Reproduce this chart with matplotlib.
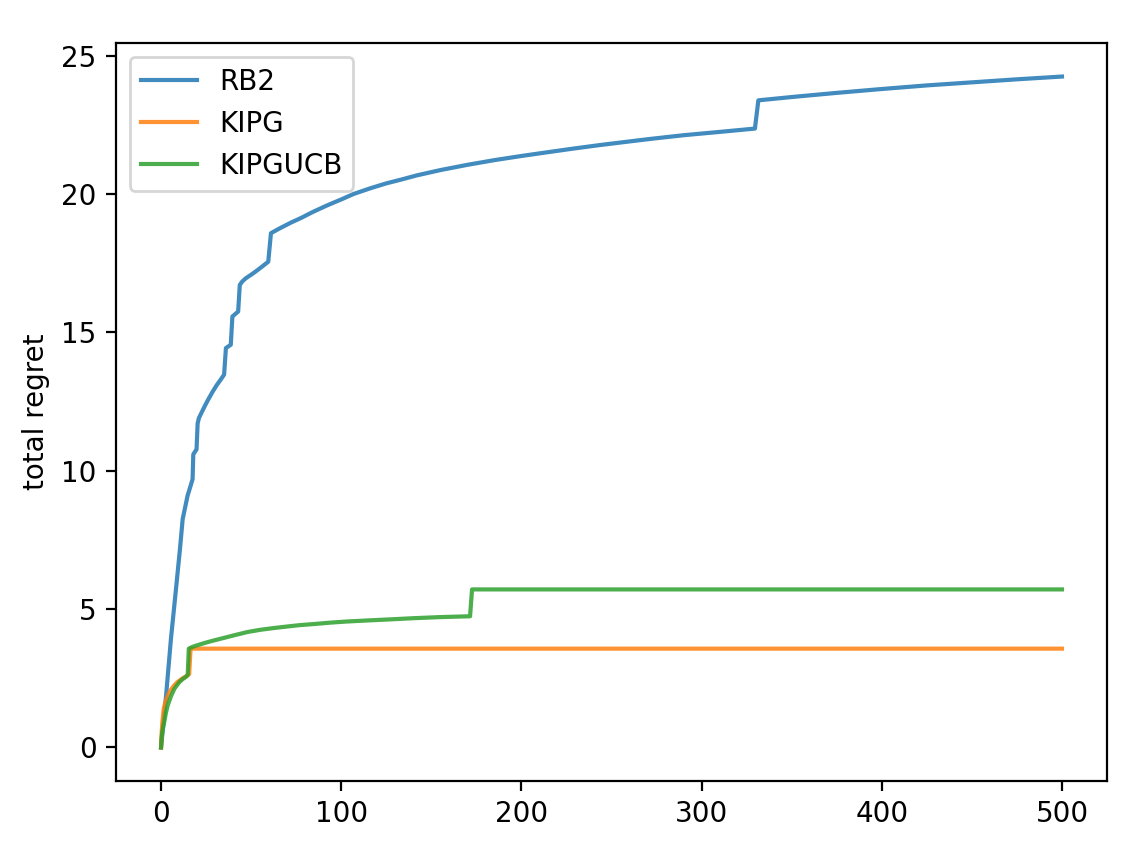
import numpy as np
import matplotlib
matplotlib.use('Agg')
import matplotlib.pyplot as plt

# -------- data --------
rb2_t = [0, 2.8, 5.5, 8.3, 10.5, 12, 14.7, 17.5, 17.9, 19.7, 20.3, 21, 22.5, 24, 26, 28.6, 31, 33, 35,
         36, 38.7, 39.6, 42.8, 43.7, 45, 47, 50, 53, 56, 59.5,
         61, 66, 72, 78, 84, 92, 100, 107, 116, 125, 134, 142, 155, 170, 185, 200, 215, 228,
         243, 258, 272, 290, 310, 329.6,
         331.5, 350, 375, 400, 425, 450, 475, 500]
rb2_r = [0, 1.88, 3.93, 5.73, 7.17, 8.25, 9.09, 9.69, 10.59, 10.77, 11.7, 11.9, 12.1, 12.3, 12.55, 12.85, 13.1, 13.28, 13.47,
         14.43, 14.55, 15.57, 15.75, 16.71, 16.83, 16.95, 17.08, 17.22, 17.37, 17.55,
         18.58, 18.76, 18.96, 19.14, 19.34, 19.58, 19.8, 20.0, 20.2, 20.38, 20.53, 20.67, 20.86, 21.05, 21.22, 21.37, 21.51, 21.63,
         21.76, 21.88, 21.99, 22.12, 22.24, 22.36,
         23.38, 23.5, 23.65, 23.79, 23.92, 24.03, 24.14, 24.24]

kipg_t = [0, 0.3, 0.7, 1.5, 2.3, 3, 4.6, 7, 9.2, 12, 14.7, 15.6, 16.4, 500]
kipg_r = [0, 0.5, 0.9, 1.4, 1.6, 1.75, 2.0, 2.22, 2.37, 2.5, 2.6, 2.65, 3.57, 3.57]

ucb_t = [0, 0.3, 0.8, 1.8, 2.7, 3.7, 5.5, 7.4, 10, 12, 13.8, 14.8, 15.4,
         17, 19, 22, 25, 29.5, 35, 41, 47.9, 55, 62, 70, 77, 85, 94, 103, 115, 128, 140, 155, 171.5,
         172.6, 500]
ucb_r = [0, 0.35, 0.6, 0.93, 1.25, 1.52, 1.85, 2.12, 2.35, 2.47, 2.55, 2.62, 3.57,
         3.62, 3.67, 3.73, 3.79, 3.87, 3.96, 4.06, 4.17, 4.25, 4.31, 4.37, 4.42, 4.46, 4.51, 4.55, 4.59, 4.63, 4.67, 4.71, 4.74,
         5.71, 5.71]

# -------- plot --------
fig = plt.figure(figsize=(1146 / 200, 848 / 200), dpi=200)
ax = fig.add_axes([116 / 1146, 1 - 781 / 848, (1107 - 116) / 1146, (781 - 43) / 848])

ax.plot(rb2_t, rb2_r, color='tab:blue', alpha=0.85, label='RB2')
ax.plot(kipg_t, kipg_r, color='tab:orange', alpha=0.85, label='KIPG')
ax.plot(ucb_t, ucb_r, color='tab:green', alpha=0.85, label='KIPGUCB')

ax.set_ylabel('total regret')
ax.legend(loc='upper left')

fig.savefig('out.png', dpi=200)
